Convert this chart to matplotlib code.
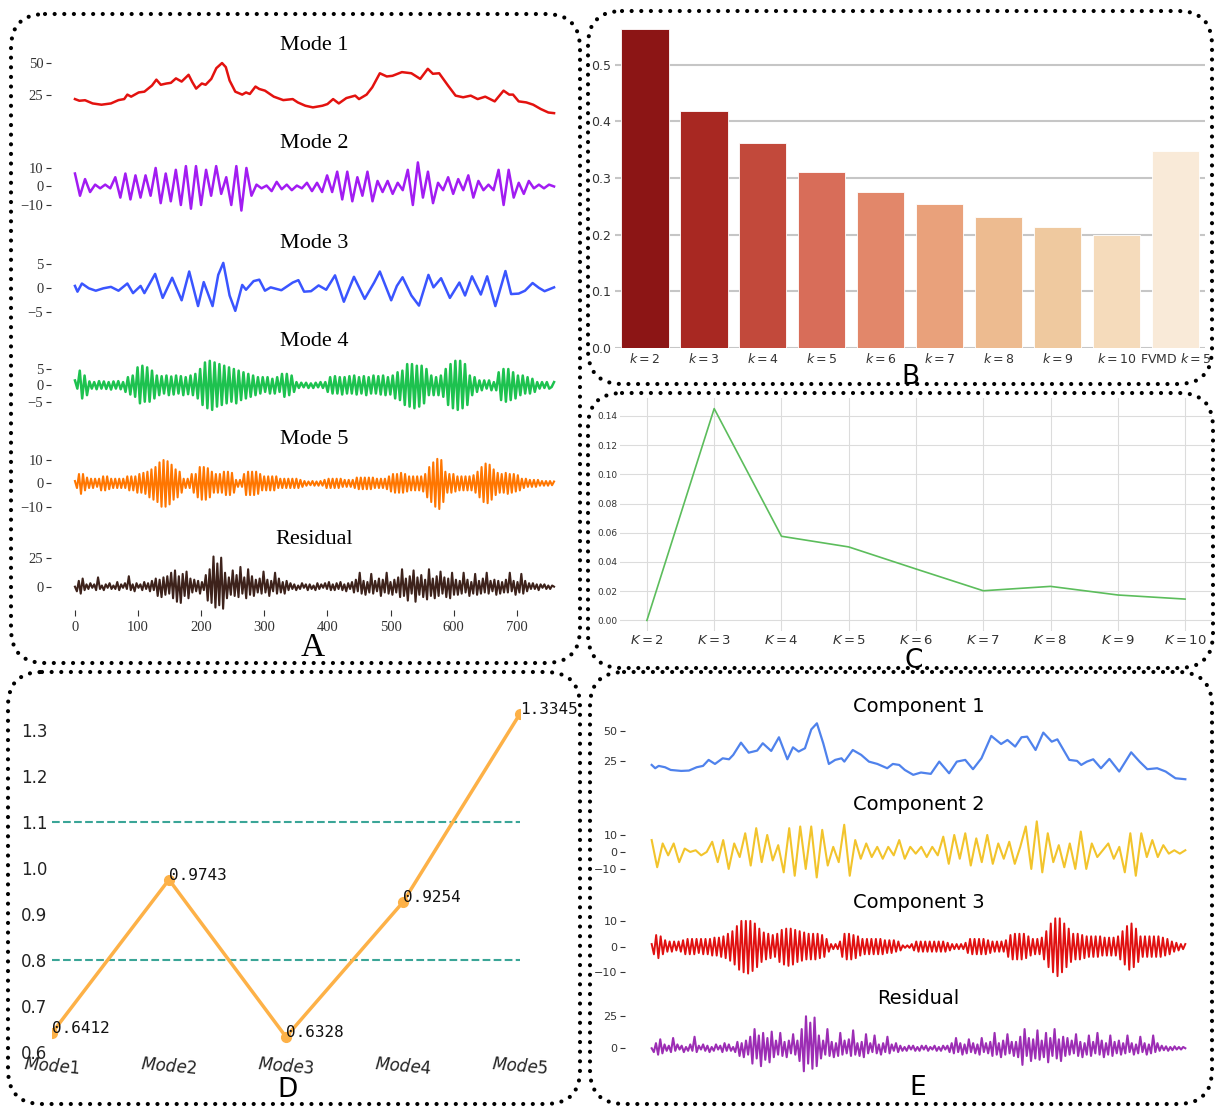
import numpy as np
import matplotlib
matplotlib.use("Agg")
import matplotlib.pyplot as plt
from matplotlib.patches import FancyBboxPatch

# ---------------- panel A : decomposition ----------------
mode1_t = [0, 7, 16, 28, 42, 57, 69, 78, 83, 89, 101, 110, 116, 122, 129, 136, 145, 152, 160, 169,
           180, 186, 192, 201, 207, 216, 224, 233, 239, 245, 254, 265, 271, 277, 286, 292, 301, 315,
           330, 345, 353, 365, 377, 392, 400, 409, 418, 430, 444, 450, 462, 471, 483, 494, 503, 518,
           533, 547, 559, 567, 577, 591, 603, 615, 627, 638, 650, 665, 679, 688, 694, 703, 715, 726,
           738, 750, 759]
mode1_v = [21.8, 20.5, 20.9, 18.4, 17.4, 18.4, 21, 21.8, 25.3, 23.7, 27, 27.6, 30, 32.4, 37, 33, 34,
           34.5, 38, 35.5, 40.8, 35, 30, 34, 33, 37.6, 46, 50, 46.8, 36.3, 27.6, 25.3, 27, 25.8, 31.6,
           29.7, 28.4, 23.7, 21, 21.8, 19.2, 16.6, 15.3, 16.6, 17.9, 21.8, 18.4, 22.6, 24.5, 21.8,
           25.3, 31, 42, 39.5, 40, 42.9, 42, 37.6, 45.5, 41.6, 42, 32.4, 24.5, 23.2, 24.5, 21.8, 23.7,
           20, 28.4, 25.3, 25.3, 20, 19.2, 17.4, 14, 11.3, 10.8]

mode2_v = [7, -5, 4, -3, 1, -1, 1, -1, 5, -6, 7, -7, 6, -6, 6, -5, 10, -9, 7, -8, 9, -10, 11, -12,
           11, -10, 9, -5, 11, -4, 5, -10, 11, -13, 10, -5, 1, -1, 0.5, -2.5, 2.5, -1.5, 1, -2, 0.5,
           -1, 2, -2.5, 2, -3, 6, -3, 8, -7, 8, -8, 5, -5, 8, -8, 3, -3, 3, -4, 2, -2, 9, -10, 13,
           -6, 8, -9, 2, -2, 5, -4, 4, -2, 6, -6, 3, -2, 1, -2, 9, -10, 9, -6, 2, -4, 3, -1, 1, -1,
           1, 0]

mode3_t = [0, 4, 11, 22, 33, 45, 57, 69, 83, 92, 104, 110, 127, 139, 154, 169, 181, 195, 204, 218,
           227, 235, 245, 254, 265, 271, 283, 292, 301, 310, 327, 345, 354, 363, 374, 386, 398, 412,
           426, 442, 459, 474, 483, 492, 501, 510, 519, 533, 545, 560, 568, 580, 594, 609, 618, 629,
           643, 653, 666, 682, 691, 703, 713, 725, 735, 744, 759]
mode3_v = [0.5, -0.7, 1, 0, -0.5, 0, 0.3, -0.5, 1, -1, 0.5, -1, 3, -2, 2.2, -2.5, 3.5, -3.7, 1.3,
           -3.7, 2.8, 5.3, -1.5, -4.7, 0.7, -0.3, 1.5, 1.8, -0.5, 0.2, -0.4, 1.2, 1.7, -0.7, -0.6,
           0.6, -0.3, 2.7, -2.8, 2.4, -2.2, 1.2, 3.5, 0.5, -2.5, 0.5, 2.3, -1.5, -3.6, 2.8, 0.2, 2.1,
           -2, 1.2, -1.5, 2.5, -1.3, 2.5, -3.7, 3.6, -1.2, -1.1, -0.5, 1.1, 0.1, -0.6, 0.2]

mode4_v = [1.5, -1, 4.5, -4, 3, -3,
           1.2, -1, 1, -1.2, 1.3, -1, 1.2, -1.1, 1, -1.3, 1.2, -1, 1.3, -1.2, 1,
           -2, 2.5, -2.8, 3, -3.5,
           5.5, -5.5, 6, -5, 5.5, -5, 4.5, -4,
           3, -3, 2.8, -2.5, 3, -3, 2.7, -2.8, 3, -2.5, 2.8, -3, 2.5, -2.7, 3, -3, 3.5, -4,
           5, -6, 7, -7, 7.5, -7.5, 7, -6.5, 6.5, -6, 6, -5.5,
           5.5, -5, 5, -5.5, 4.5, -4.5, 4, -4, 3.5, -3.5, 3, -3,
           2.5, -2.5, 2.5, -2, 2.5, -2.5, 2, -2.5, 2.5, -2,
           3.5, -3.5, 3.5, -3, 3, -2,
           1, -0.8, 0.8, -0.6, 0.8, -0.8, 0.6, -0.8, 0.8, -0.6, 1, -0.8, 1,
           -2, 2.5, -2.5, 2.8, -2.5, 2.5, -2.8, 2.5, -2.5, 2.8, -2.5, 3, -2.8, 2.5, -2.5, 2.8, -3,
           2.5, -2.5, 3, -2.5, 2.8, -2.8, 3, -3, 2.5, -2.8, 3,
           -4, 4, -4.5, 4.5,
           -6, 6.5, -6.5, 6.5, -7, 6, -6.5, 6, -5.5, 5,
           -3, 3, -3, 2.5, -3, 3, -3.5,
           5, -6, 6.5, -7, 7.5, -7.5, 7.5, -7, 6.5, -6,
           3, -3, 2.5, -2,
           1.5, -1.5, 1.5, -1, 1.5, -1.5, 1, -1.5,
           4, -4.5, 5, -5, 5, -4.5, 4, -4,
           3, -3, 3, -2.5, 2.5, -2.5, 2, -2,
           1, -1, 1, -0.8, 1, -1, -0.5, 1]

mode5_v = [1, -2, 4, -4.5, 4, -3, 2.5,
           -2, 2, -2, 2, -1.5, 2,
           -3, 3, -3, 3, -2.5,
           2, -2, 2, -2, 2, -2, 2, -2,
           3, -3, 3, -3, 3,
           -4, 4, -4, 4.5, -4.5, 5,
           -6, 6, -7, 7,
           -8, 9, -10, 10, -10, 9.5, -9, 8, -7,
           6, -6, 5, -4,
           2, -2, 2, -2,
           4, -4, 4,
           -6, 7, -7, 7, -7, 6.5, -6, 5,
           -4, 4, -4, 4, -4,
           5, -5, 5, -5, 4.5, -4,
           1.5, -1.5, 1.5, -1.5,
           4, -5, 5, -5, 5, -5, 5, -4.5, 4,
           -3, 3, -3, 3, -3, 3, -3, 3,
           -2, 2, -2, 2, -2, 2, -2, 2, -2, 2, -2, 1.5, -1.5,
           1, -1, 0.8, -0.8, 1, -1, 0.8, -1, 1, -1, 1.5,
           -2, 2, -2, 2, -2, 2, -2, 2, -1.5,
           1.5, -1.5, 1.5, -1.5, 1.5, -2,
           2.5, -2.5, 2.5, -2.5, 2.5, -2.5, 2.5, -2.5, 2.5,
           -2, 2, -2, 2, -2, 2, -2.5,
           3, -3.5, 4, -4, 4, -4, 4.5, -4, 4, -3.5, 3,
           -3, 3, -3, 3, -3, 3, -3.5, 4,
           -6, 7, -8, 9, -10, 10.5, -11, 10, -8,
           5, -4, 4, -4, 4, -3.5, 3,
           -3, 3, -3, 3, -3, 3, -3, 3.5, -4,
           5, -6, 7, -8, 8.5, -8.5, 8, -7, 6, -5, 4.5,
           -4, 4, -4, 4.5, -4.5, 4, -4, 4, -3.5, 3.5, -3,
           2, -2, 2, -1.5, 1.5, -1.5, 1.5, -1.5, 1.5, -1, 1, -1, 1, -1, 1, -0.8, 0.8]

resid_a_v = [0, -4, 5, -6, 7, -3, 2,
             -2, 3, -1, 2, -3, 8, -2, 1, -3, 2, -1, 3, -2, 1, -2, 4, -3, 2, -1, 3, -2, 9, -3, 2,
             -4, 3, -1, 2, -3, 4, -2, 3, -4, 5, -3,
             7, -8, 6, -9, 8, -7, 9, -6,
             12, -10, 14, -13, 9, -14, 11, -8, 13, -10, 7,
             -5, 6, -4, 5, -6, 4, -3,
             10, -12, 15, -14, 26, -18, 20, -16, 25, -19, 12, -10, 8,
             -7, 14, -8, 10, -9, 17, -6, 8, -10, 15, -7, 9, -8, 6, -5,
             7, -6, 13, -5, 6, -8, 5, -4, 12, -6, 7, -5, 4, -6, 5, -3,
             3, -2, 2, -3, 1, -2, 3, -1, 2, -3, 2, -2, 1, -3, 3, -2, 2, -1, 3, -2, 4, -3, 2, -3,
             3, -2, 4, -3, 2, -4, 3, -2, 4,
             -5, 6, -4, 12, -6, 5, -7, 4, -5, 11, -6, 5, -4, 7, -8, 6, -5, 12, -6, 4, -7, 6, -5,
             8, -9, 15, -8, 7, -12, 9, -6, 14, -13, 8, -7, 10, -9, 6, -11, 15, -8, 7, -10, 9, -8,
             13, -6, 8, -9, 7, -10, 12, -7,
             6, -7, 5, -6, 12, -5, 6, -8, 4, -6, 11, -7, 5, -6, 7, -5, 12, -6, 5, -4, 6, -7, 5,
             -6, 4, -5,
             6, -5, 12, -4, 5, -7, 4, -5, 11, -6, 5, -4, 3,
             -2, 3, -2, 2, -3, 2, -1, 2, -2, 1, -2, 1, 0]

# ---------------- panel E : FVMD components ----------------
comp1_t = [0, 5, 10, 19, 27, 42, 53, 64, 73, 81, 90, 101, 110, 116, 127, 138, 150, 158, 170, 181,
           193, 201, 209, 218, 227, 235, 244, 252, 261, 270, 274, 286, 298, 309, 321, 335, 343, 352,
           360, 372, 383, 397, 409, 423, 434, 446, 457, 469, 483, 497, 506, 517, 526, 534, 546, 557,
           569, 577, 594, 605, 611, 619, 628, 639, 651, 665, 682, 694, 705, 719, 731, 745, 759]
comp1_v = [22, 19.3, 21.2, 20.1, 17.9, 17.1, 17.4, 20.1, 21.2, 26.1, 22.8, 27.4, 26.6, 30.2, 40.2,
           32, 33.7, 39.7, 33.4, 44.6, 26.6, 36.4, 32.9, 35.6, 51, 56, 39.7, 22.8, 26.1, 27.4, 24.7,
           34.2, 30.2, 24.7, 22.8, 19.3, 22.8, 22, 17.9, 13.9, 15.8, 14.7, 24.7, 15.2, 24.7, 26.1,
           18.5, 27.4, 45.7, 39.1, 42.4, 37, 44.6, 45.1, 34.2, 48.4, 41, 42.9, 26.1, 25.3, 22, 24.7,
           26.6, 19.3, 26.9, 16.6, 32.3, 24.7, 18.5, 19.3, 16.6, 11.1, 10.3]

comp2_v = [7, -9, 5, -2, 5, -6, 2, 0, 1, -2, 0, 6, -6, 7, -10, 5, -3, 11, -8, 14, -6, 10, -5, 4,
           -12, 14, -14, 15, -10, 15, -15, 13, -8, 3, -6, 16, -14, 7, -4, 5, -3, 3, -4, 3, -2, 7,
           -4, 3, -1, 3, -3, 3, -2, 9, -7, 10, -4, 11, -8, 8, -6, 10, -7, 5, -4, 6, -7, 3, 15, -10,
           18, -12, 11, -6, 4, -9, 5, -10, 12, -10, 5, -3, 1, 5, -4, 3, -12, 11, -14, 11, -3, 7, -3,
           4, -1, 1, -1, 1]

comp3_v = [1, -3, 4.5, -4.5, 4, -3, 2.5, -2,
           2, -2, 2, -1.5, 2, -2, 2.5,
           -3, 3, -3, 3, -3, 3, -2.5, 3, -3, 3, -3,
           3, -3.5, 3.5, -3.5, 3.5, -4, 4, -4.5, 5, -5.5, 6,
           -7, 8, -9, 10, -10, 10, -10.5, 10, -9.5, 9, -8, 7, -6, 5.5,
           -5, 5, -4.5, 4.5, -4,
           5, -6, 6.5, -7, 7, -7.5, 7, -7, 6.5, -6, 6, -5.5, 5.5, -5, 5,
           -5, 5, -5, 5, -4.5, 4.5, -4, 3, -2,
           1, -1, 1, -1, 2,
           -4, 5, -5, 5, -5, 4.5, -4.5, 4, -3.5,
           3, -3, 3, -3, 3, -3, 3, -3, 3, -3, 2.5,
           -2.5, 2.5, -2.5, 2.5, -2, 2, -1.5,
           0.5, -0.5, 0.5, -0.5,
           1, -1.5, 2, -2, 2, -2, 2, -2, 2, -2, 2, -2, 2, -2, 2, -2, 1.5, -1.5,
           1, -1, 1, -1, 1, -1, 1.5,
           -2.5, 3, -3, 3, -3, 3, -3, 3, -3, 2.5, -2.5,
           2, -2, 2, -2, 2, -2, 2.5,
           -4, 4.5, -5, 5, -5, 5, -5, 5, -4.5, 4, -3.5,
           3, -3, 3, -3, 3.5,
           -5, 6, -8, 9, -10, 11, -11.5, 11, -10, 9, -8, 7, -6,
           5, -5, 5, -5, 4.5, -4.5, 4,
           -4, 4, -4, 4, -4, 4, -3.5,
           3.5, -3.5, 3.5, -3.5, 3.5, -3.5, 4, -5, 6,
           -7, 8, -9, 9, -8, 7, -6,
           4, -4, 4, -4, 4,
           -4, 4, -4, 4, -4, 3.5, -3.5, 3, -3,
           2, -2, 1.5, -1.5, 1, -1, 1]

resid_e_v = [0, -3, 4, -5, 7, -4, 3, -2,
             2, -3, 8, -2, 3, -1, 2, -3, 1, -2, 3, -2, 9, -3, 2, -1, 3, -2, 2, -3, 1, -2, 3, -1,
             2, -3, 4, -2, 3, -2, 1, -3,
             5, -6, 4, -7, 6, -5,
             9, -12, 15, -8, 10, -14, 12, -9, 8, -11, 13, -7, 6,
             -5, 12, -6, 5, -7, 6, -4, 11, -5, 6,
             -10, 15, -18, 25, -12, 20, -16, 24, -14, 10, -8,
             6, -5, 15, -6, 5, -7, 4, -6, 12, -5, 6, -4, 7, -6, 14, -5, 4, -6, 5, -7, 11, -4,
             4, -3, 10, -4, 3, -5, 4, -3, 9, -4, 3, -2, 4, -3, 2,
             -2, 1, -2, 2, -1, 2, -2, 1, -2, 2, -1, 2, -2, 1, -1, 2, -2, 1, -2, 2, -1, 2,
             -3, 4, -4, 8, -3, 4, -5, 3, -4, 7, -3, 4, -4, 3, -5, 8, -3, 4, -4,
             5, -6, 12, -5, 4, -7, 6, -5, 11, -4, 5, -6, 5,
             -7, 9, -13, 15, -6, 8, -10, 7, -8, 14, -9, 6, -7, 12, -11, 8, -6, 15, -8, 7, -10, 9,
             -6, 8,
             -5, 6, -4, 11, -6, 5, -7, 4, -5, 10, -6, 5, -4, 12, -5, 6, -7, 4, -5, 10, -6, 5, -4,
             6, -5, 4,
             -4, 10, -3, 4, -5, 3, -4, 9, -3, 4, -5, 3, -4, 10, -3, 4, -2,
             2, -1.5, 1.5, -2, 1, -1.5, 1.5, -1, 1, -1, 1, 0]

# ---------------- panel B / C / D ----------------
bar_labels = ['$k=2$', '$k=3$', '$k=4$', '$k=5$', '$k=6$', '$k=7$', '$k=8$', '$k=9$', '$k=10$',
              'FVMD $k=5$']
bar_values = [0.563, 0.419, 0.362, 0.311, 0.276, 0.255, 0.232, 0.214, 0.200, 0.347]
bar_colors = ['#8c1515', '#a82822', '#c2493b', '#d86d59', '#e2876a', '#e9a17b', '#edbb90',
              '#efc99f', '#f5dbbb', '#f9ead8']

k_labels = ['$K=2$', '$K=3$', '$K=4$', '$K=5$', '$K=6$', '$K=7$', '$K=8$', '$K=9$', '$K=10$']
k_values = [0.0, 0.145, 0.0576, 0.0503, 0.0352, 0.0203, 0.0233, 0.0174, 0.0146]

mode_names = ['$Mode1$', '$Mode2$', '$Mode3$', '$Mode4$', '$Mode5$']
mode_scores = [0.6412, 0.9743, 0.6328, 0.9254, 1.3345]
score_lines = [0.8, 1.1]

W, H = 1215, 1108
fig = plt.figure(figsize=(W / 100, H / 100), dpi=100)
fig.patch.set_facecolor('white')


def add_ax(l, t, r, b):
    # pixel box -> figure fraction
    return fig.add_axes([l / W, 1 - b / H, (r - l) / W, (b - t) / H])


def signal(box, x, y, color, ylim, yticks, lw, family, size):
    ax = add_ax(*box)
    ax.plot(x, y, color=color, lw=lw, solid_joinstyle='round')
    ax.set_ylim(*ylim)
    ax.set_yticks(yticks)
    ax.set_xticks([])
    for s in ax.spines.values():
        s.set_visible(False)
    ax.patch.set_alpha(0)
    ax.tick_params(axis='y', length=3.5, width=0.8, pad=2, labelsize=size,
                   colors='#333333', labelfontfamily=family)
    return ax


def even_x(v):
    return np.linspace(0, 759, len(v))


serif = 'Liberation Serif'

# ---- A ----
a_rows = [
    ('Mode 1', mode1_t, mode1_v, '#e3120f', (50, 118), (7, 60.2), [25, 50], 1.8, 45),
    ('Mode 2', even_x(mode2_v), mode2_v, '#a21cf2', (155, 215), (-15.4, 17), [-10, 0, 10], 1.8, 144),
    ('Mode 3', mode3_t, mode3_v, '#3a55ff', (255, 315), (-5.56, 6.94), [-5, 0, 5], 1.8, 243),
    ('Mode 4', even_x(mode4_v), mode4_v, '#1dc24f', (355, 412), (-8.15, 9.28), [-5, 0, 5], 1.8, 342),
    ('Mode 5', even_x(mode5_v), mode5_v, '#ff7600', (450, 512), (-12.27, 14.3), [-10, 0, 10], 1.5, 440),
    ('Residual', even_x(resid_a_v), resid_a_v, '#3d221b', (545, 610), (-20.1, 35.9), [0, 25], 1.5, 540),
]
for title, x, y, c, (top, bot), ylim, yt, lw, ty in a_rows:
    ax = signal((51, top, 578, bot), x, y, c, ylim, yt, lw, serif, 10.5)
    fig.text(314.5 / W, 1 - ty / H, title, family=serif, fontsize=16, ha='center', va='center')
ax.set_xticks([0, 100, 200, 300, 400, 500, 600, 700])
ax.tick_params(axis='x', length=4, width=0.8, pad=4, labelsize=10.5, colors='#333333',
               labelfontfamily=serif)

# ---- E ----
e_rows = [
    ('Component 1', comp1_t, comp1_v, '#4f82ec', (720, 785), (5.6, 58.7), [25, 50], 1.6, 707),
    ('Component 2', even_x(comp2_v), comp2_v, '#f2c42c', (820, 880), (-16.5, 18.8), [-10, 0, 10], 1.5, 805),
    ('Component 3', even_x(comp3_v), comp3_v, '#e01010', (915, 980), (-13, 12.3), [-10, 0, 10], 1.4, 902),
    ('Residual', even_x(resid_e_v), resid_e_v, '#9c2db4', (1010, 1075), (-20.9, 29.9), [0, 25], 1.5, 999),
]
for title, x, y, c, (top, bot), ylim, yt, lw, ty in e_rows:
    signal((625, top, 1212, bot), x, y, c, ylim, yt, lw, 'DejaVu Sans', 8)
    fig.text(918.5 / W, 1 - ty / H, title, fontsize=14, ha='center', va='center')

# ---- B ----
axb = add_ax(615.5, 13, 1205, 348)
axb.bar(range(len(bar_values)), bar_values, width=0.8, color=bar_colors, edgecolor='white',
        lw=0.6, zorder=2)
axb.set_xlim(-0.5, len(bar_values) - 0.5)
axb.set_ylim(0, 0.5915)
axb.set_yticks([0.0, 0.1, 0.2, 0.3, 0.4, 0.5])
axb.set_xticks(range(len(bar_labels)), bar_labels)
axb.yaxis.grid(True, color='#c6c6c6', lw=1.5)
axb.set_axisbelow(True)
for s in axb.spines.values():
    s.set_visible(False)
axb.tick_params(length=0, labelsize=9, colors='#333333')
axb.tick_params(axis='x', pad=3)
axb.patch.set_alpha(0)

# ---- C ----
axc = add_ax(620, 398, 1212, 631)
axc.plot(range(len(k_values)), k_values, color='#5cbd5c', lw=1.2)
axc.set_xticks(range(len(k_labels)), k_labels)
axc.set_yticks([0.0, 0.02, 0.04, 0.06, 0.08, 0.10, 0.12, 0.14])
axc.grid(True, color='#dcdcdc', lw=0.8)
for s in axc.spines.values():
    s.set_visible(False)
axc.tick_params(axis='y', length=0, labelsize=6.5, colors='#333333', pad=2)
axc.tick_params(axis='x', length=0, labelsize=9.5, colors='#333333', pad=2)
axc.patch.set_alpha(0)

# ---- D ----
axd = add_ax(52, 702, 520, 1052)
for yv in score_lines:
    axd.hlines(yv, 0, len(mode_scores) - 1, colors='#3aa597', linestyles='--', lw=1.5)
axd.plot(range(len(mode_scores)), mode_scores, color='#fdb147', lw=2.5, marker='o', ms=7)
for i, v in enumerate(mode_scores):
    axd.text(i, v, f'{v:.4f}', family='DejaVu Sans Mono', fontsize=11.5, color='#111111')
axd.set_xlim(0, len(mode_scores) - 1)
axd.set_ylim(0.6, 1.36)
axd.set_yticks([0.6, 0.7, 0.8, 0.9, 1.0, 1.1, 1.2, 1.3])
axd.set_xticks(range(len(mode_names)), mode_names, rotation=-5)
for s in axd.spines.values():
    s.set_visible(False)
axd.tick_params(length=0, labelsize=12, colors='#222222')
axd.tick_params(axis='x', pad=2)
axd.patch.set_alpha(0)

# ---- dotted frames and panel letters ----
ov = fig.add_axes([0, 0, 1, 1], zorder=10)
ov.set_xlim(0, W)
ov.set_ylim(H, 0)
ov.axis('off')
ov.patch.set_alpha(0)
frames = [(11, 14, 580, 663), (588, 11, 1212, 384), (588, 393, 1213, 668),
          (8, 672, 580, 1104), (590, 672, 1212, 1104)]
for x0, y0, x1, y1 in frames:
    ov.add_patch(FancyBboxPatch((x0, y0), x1 - x0, y1 - y0,
                                boxstyle='round,pad=0,rounding_size=34', fill=False,
                                ec='black', lw=3, ls=(0, (0.01, 2.3)), capstyle='round'))
ov.text(313, 648, 'A', family=serif, fontsize=24, ha='center', va='center')
for letter, lx, ly in [('B', 910, 377), ('C', 914, 661), ('D', 287, 1090), ('E', 918, 1088)]:
    ov.text(lx, ly, letter, fontsize=19, ha='center', va='center')

fig.savefig('out.png', dpi=100)
